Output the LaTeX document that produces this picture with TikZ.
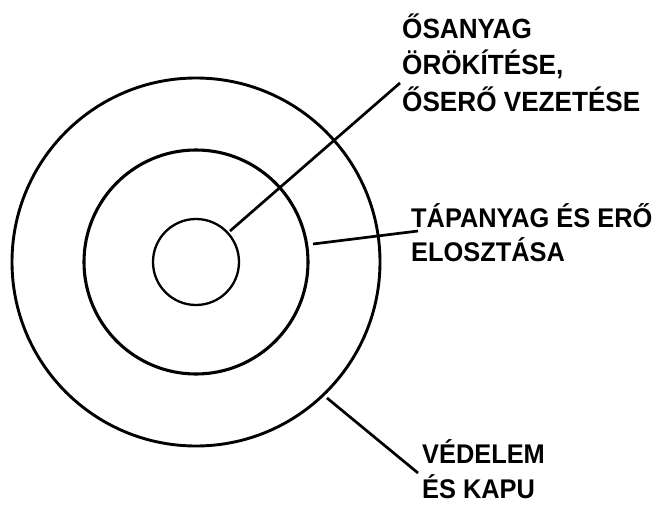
\documentclass[tikz,border=0pt]{standalone}
\usepackage{fontspec}
\newfontfamily\lblfont{Liberation Sans}[FakeStretch=0.94]
\begin{document}
\begin{tikzpicture}[x=1pt,y=-1pt,
  ring/.style={draw=black,circle,inner sep=0pt,outer sep=0pt},
  lbl/.style={anchor=base west,align=left,inner sep=0pt,font=\lblfont\bfseries\fontsize{27}{36.5}\selectfont},
  conn/.style={draw=black,line width=2.7pt}]
\useasboundingbox (0,0) rectangle (665,506);
\node[ring,line width=2.9pt,minimum size=368pt] (outer) at (196,262) {};
\node[ring,line width=3.1pt,minimum size=224pt] (middle) at (196,262) {};
\node[ring,line width=2.3pt,minimum size=86pt] (inner) at (196,262) {};
\node[lbl,font=\lblfont\bfseries\fontsize{27.8}{36.5}\selectfont] (t1) at (402,111) {ŐSANYAG\\ÖRÖKÍTÉSE,\\ŐSERŐ VEZETÉSE};
\node[lbl,font=\lblfont\bfseries\fontsize{27}{34}\selectfont] (t2) at (411,261) {TÁPANYAG ÉS ERŐ\\ELOSZTÁSA};
\node[lbl,font=\lblfont\bfseries\fontsize{27}{35}\selectfont] (t3) at (422,498) {VÉDELEM\\ÉS KAPU};
\coordinate (e1) at (400,83);
\coordinate (e2) at (418,231);
\coordinate (e3) at (418,473);
\coordinate (s1) at (230,231);
\coordinate (s2) at (313,244);
\coordinate (s3) at (327,398);
\draw[conn] (s1) -- (e1);
\draw[conn] (s2) -- (e2);
\draw[conn] (s3) -- (e3);
\end{tikzpicture}
\end{document}
